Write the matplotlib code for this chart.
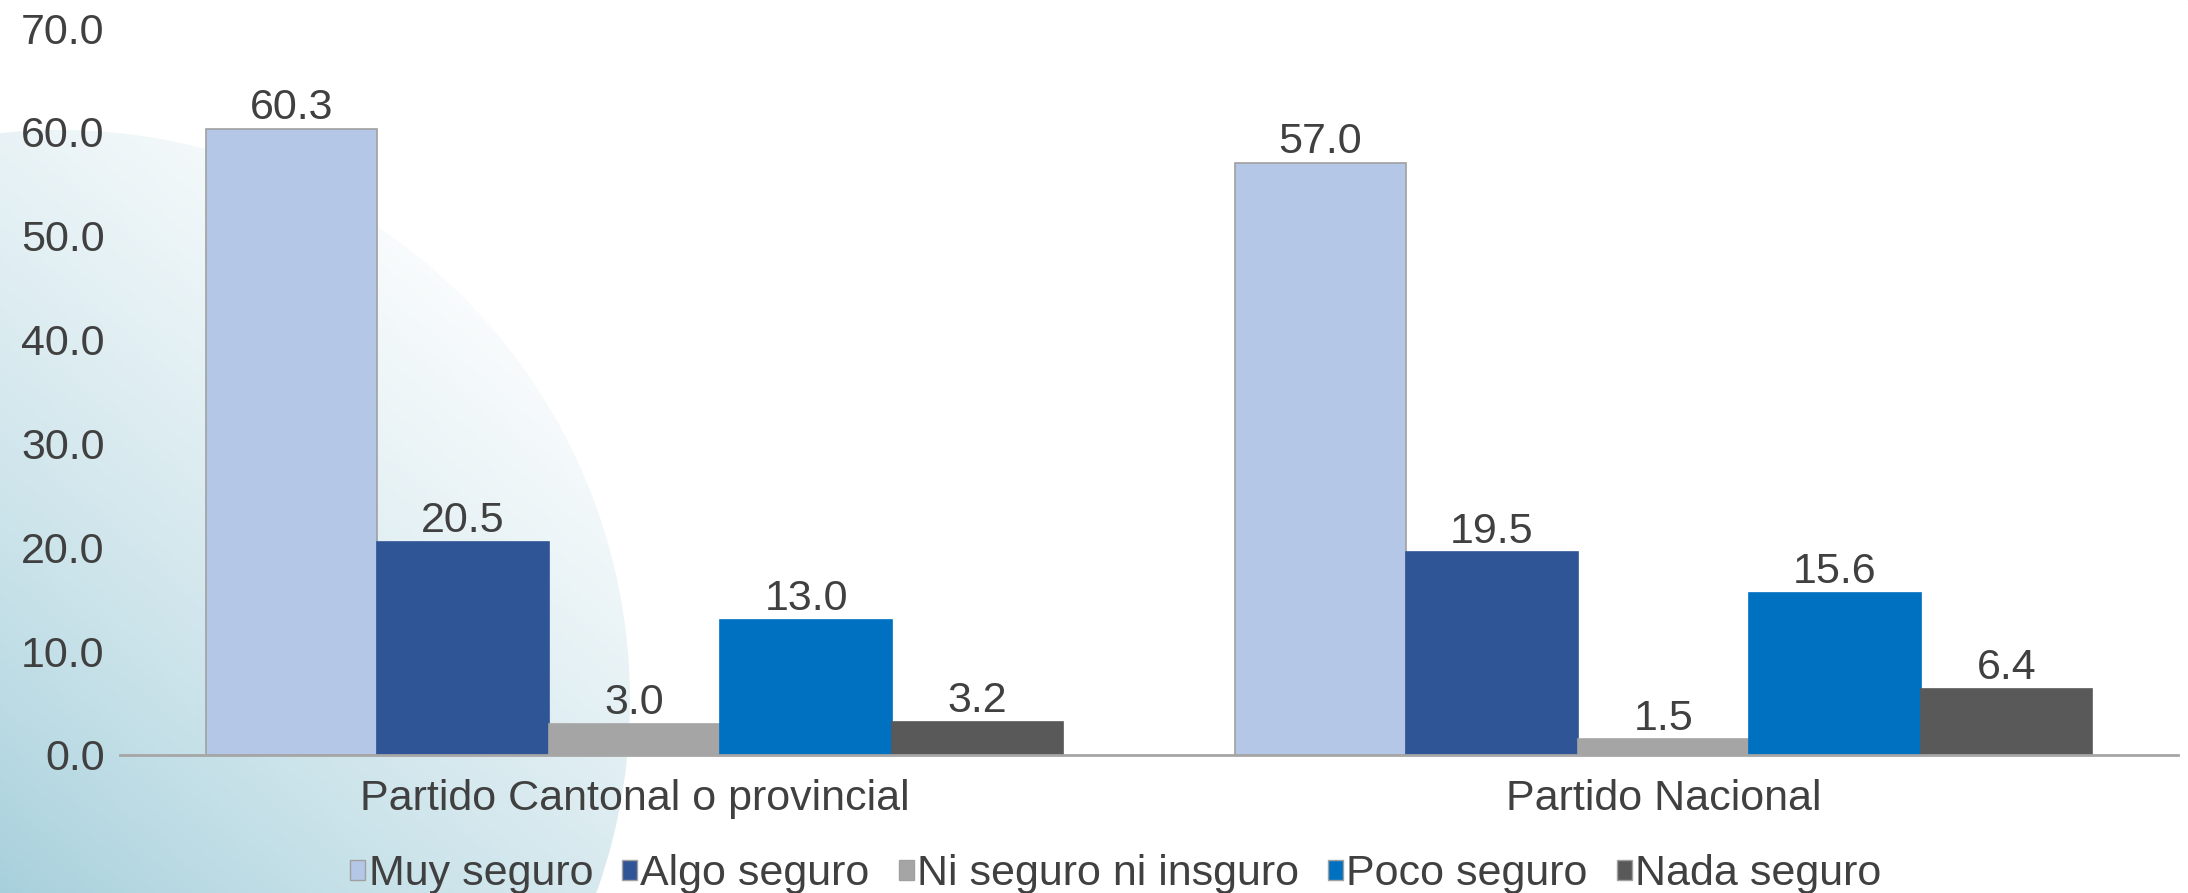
import matplotlib
matplotlib.use("Agg")
import matplotlib.pyplot as plt
import numpy as np
from matplotlib.patches import Circle, Patch

categories = ["Partido Cantonal o provincial", "Partido Nacional"]
series = ["Muy seguro", "Algo seguro", "Ni seguro ni insguro", "Poco seguro", "Nada seguro"]
muy_seguro = [60.3, 57.0]
algo_seguro = [20.5, 19.5]
ni_seguro = [3.0, 1.5]
poco_seguro = [13.0, 15.6]
nada_seguro = [3.2, 6.4]
values = [muy_seguro, algo_seguro, ni_seguro, poco_seguro, nada_seguro]
colors = ["#B4C7E7", "#2F5597", "#A5A5A5", "#0070C0", "#595959"]
edges = ["#A0A0A0", "#2F5597", "#A5A5A5", "#0070C0", "#595959"]
yticks = [0, 10, 20, 30, 40, 50, 60, 70]

plt.rcParams['font.family'] = ['Liberation Sans', 'DejaVu Sans']
FS = 31
TXT = "#404040"

W, H = 2188, 893
fig = plt.figure(figsize=(W / 100, H / 100), dpi=100)
fig.patch.set_facecolor("white")

# decorative background
bg = fig.add_axes([0, 0, 1, 1], zorder=0)
bg.set_xlim(0, W)
bg.set_ylim(H, 0)
bg.axis("off")
yy, xx = np.mgrid[0:H, 0:W]
t = np.clip((xx / 650.0) * 0.55 + ((H - yy) / 760.0) * 0.75, 0, 1) ** 0.8
c0 = np.array([165, 207, 219]) / 255.0
c1 = np.array([250, 252, 253]) / 255.0
img = c0[None, None, :] * (1 - t[..., None]) + c1[None, None, :] * t[..., None]
im = bg.imshow(img, extent=(0, W, H, 0), aspect="auto", zorder=0)
circ = Circle((60, 700), 570, transform=bg.transData, facecolor="none", edgecolor="none")
bg.add_patch(circ)
im.set_clip_path(circ)
corner = Circle((2245, -30), 65, transform=bg.transData, facecolor="#e3eef2", edgecolor="none")
bg.add_patch(corner)

ax = fig.add_axes([120 / W, (H - 755) / H, (2178 - 120) / W, (755 - 28) / H], zorder=1)
ax.patch.set_alpha(0)

x = np.arange(len(categories))
n = len(series)
bw = 1.0 / 6
for i, (name, vals) in enumerate(zip(series, values)):
    pos = x - (n * bw) / 2 + bw * (i + 0.5)
    bars = ax.bar(pos, vals, width=bw, color=colors[i], edgecolor=edges[i], linewidth=1.2, label=name)
    for b, v in zip(bars, vals):
        ax.annotate(f"{v:.1f}", (b.get_x() + b.get_width() / 2, v), xytext=(0, 7),
                    textcoords="offset points", ha="center", va="baseline", fontsize=FS, color=TXT)

ax.set_xlim(-0.5, 1.5)
ax.set_ylim(0, 70)
ax.set_yticks(yticks)
ax.set_yticklabels([f"{v:.1f}" for v in yticks])
ax.set_xticks(x)
ax.set_xticklabels(categories)
ax.tick_params(axis="both", length=0, labelsize=FS, colors=TXT)
ax.tick_params(axis="y", pad=11)
ax.tick_params(axis="x", pad=17)
for s in ["top", "right", "left"]:
    ax.spines[s].set_visible(False)
ax.spines["bottom"].set_color("#A6A6A6")
ax.spines["bottom"].set_linewidth(2)

handles = [Patch(facecolor=colors[i], edgecolor="#A0A0A0", linewidth=1) for i in range(n)]
leg = fig.legend(handles, series, loc="center", bbox_to_anchor=(0.51, (H - 874) / H), ncol=5,
                 frameon=False, fontsize=FS, handlelength=0.34, handleheight=0.34,
                 handletextpad=0.08, columnspacing=0.68, borderpad=0)
for t_ in leg.get_texts():
    t_.set_color(TXT)

fig.savefig("out.png", dpi=100)
